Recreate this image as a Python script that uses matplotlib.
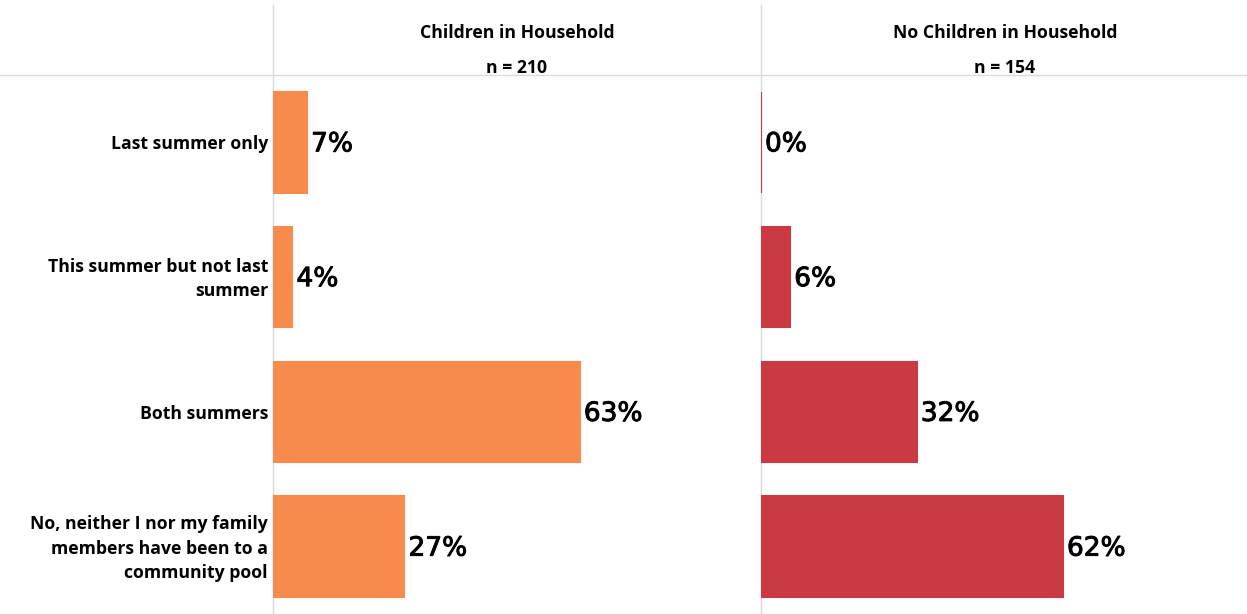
import matplotlib
matplotlib.use("Agg")
import matplotlib.pyplot as plt
from matplotlib.lines import Line2D
import matplotlib.patheffects as pe

plt.rcParams['font.family'] = ['Open Sans', 'DejaVu Sans']

categories = [
    "Last summer only",
    "This summer but not last\nsummer",
    "Both summers",
    "No, neither I nor my family\nmembers have been to a\ncommunity pool",
]
panel_titles = ["Children in Household", "No Children in Household"]
panel_ns = ["n = 210", "n = 154"]
children_pct = [7, 4, 63, 27]
no_children_pct = [0, 6, 32, 62]
panel_values = [children_pct, no_children_pct]
panel_colors = ["#f68b4d", "#c93a43"]

W, H = 1247, 614
fig = plt.figure(figsize=(W / 100, H / 100), dpi=100)

label_right = 273
panel_w = 488
header_h = 75
grid_color = "#d9d9d9"
text_size = 12.7
value_effect = [pe.withStroke(linewidth=0.7, foreground="black")]

def fx(px):
    return px / W

def fy(py):
    return 1 - py / H

for i, (vals, color, title, n) in enumerate(zip(panel_values, panel_colors, panel_titles, panel_ns)):
    left = label_right + i * panel_w
    ax = fig.add_axes([fx(left), 0, fx(panel_w), (H - header_h) / H])
    ypos = list(range(len(categories)))
    ax.barh(ypos, vals, height=0.745, color=color, edgecolor=color, linewidth=1.5)
    for y, v in zip(ypos, vals):
        ax.annotate(f"{v}%", xy=(v, y), xytext=(4, -2), textcoords="offset pixels",
                    va="center", ha="left", fontsize=19, family="DejaVu Sans",
                    color="black", path_effects=value_effect)
    ax.set_xlim(0, 100.2)
    ax.set_ylim(len(categories) - 0.5, -0.5)
    ax.axis("off")
    cx = left + panel_w / 2
    fig.text(fx(cx), fy(33), title, ha="center", va="center",
             fontsize=text_size, fontweight="bold")
    fig.text(fx(cx), fy(68), n, ha="center", va="center",
             fontsize=text_size, fontweight="bold")

# row labels
row_h = (H - header_h) / len(categories)
for j, cat in enumerate(categories):
    yc = header_h + row_h * (j + 0.5) + 2
    fig.text(fx(label_right - 5), fy(yc), cat, ha="right", va="center",
             fontsize=text_size, fontweight="bold", linespacing=1.45)

# divider lines, kept beneath the bars
fig.add_artist(Line2D([0, 1], [fy(header_h), fy(header_h)], color=grid_color, lw=1, zorder=-1))
for xv in (label_right, label_right + panel_w):
    fig.add_artist(Line2D([fx(xv), fx(xv)], [0, fy(5)], color=grid_color, lw=1, zorder=-1))

fig.savefig("out.png", dpi=100)
